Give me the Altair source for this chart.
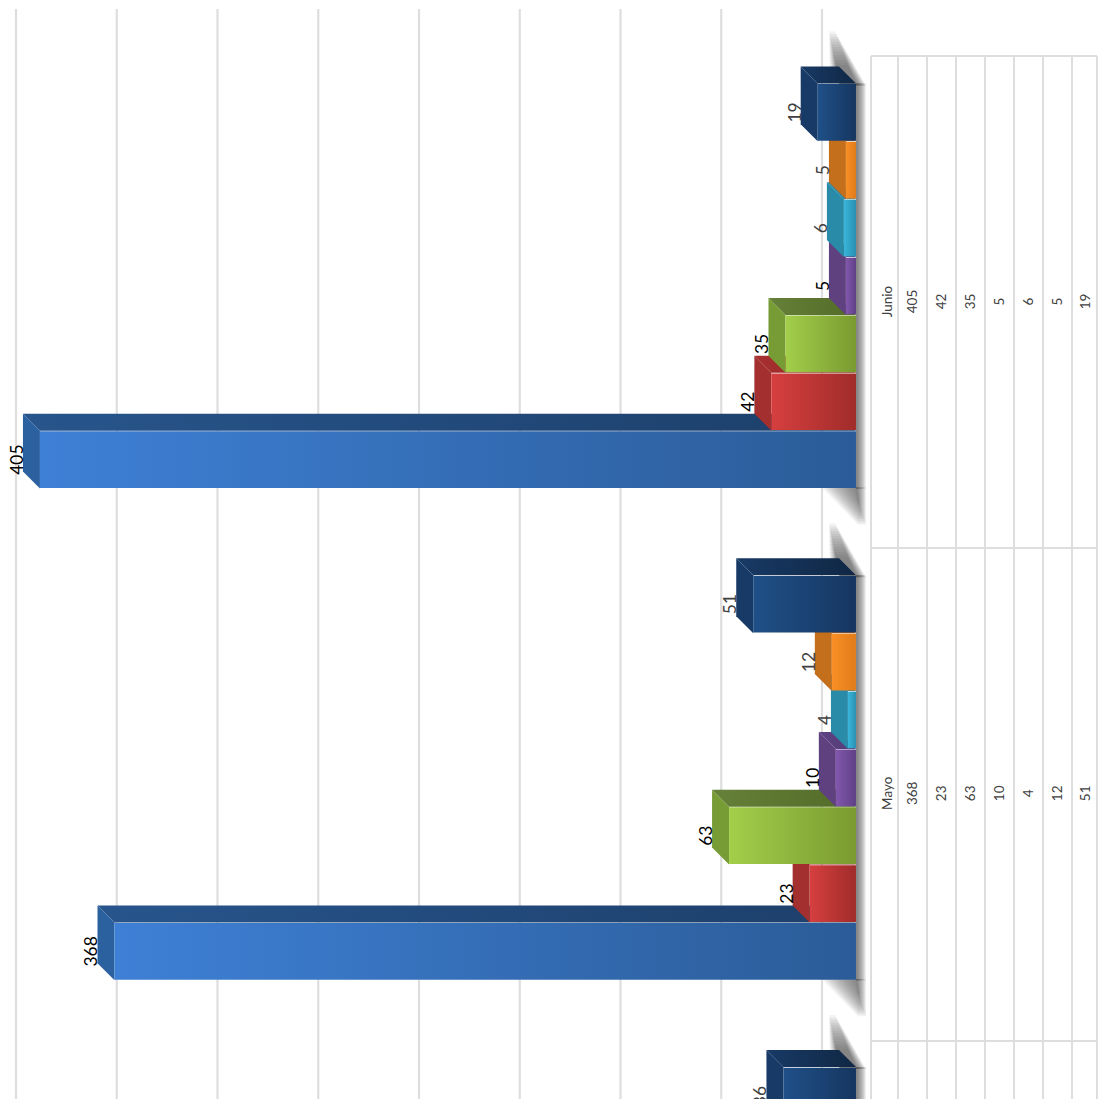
import altair as alt
import pandas as pd

categories = ["Junio", "Mayo", ""]
junio = [405, 42, 35, 5, 6, 5, 19]
mayo = [368, 23, 63, 10, 4, 12, 51]
abril = [None, None, None, None, None, None, 36]
series_values = [junio, mayo, abril]
grid_values = [0, 50, 100, 150, 200, 250, 300, 350, 400]

front_colors = [("#3e80d6", "#2b5c98"), ("#d63f3f", "#a02c2a"), ("#a2cf4a", "#7a9a30"),
                ("#8257ad", "#5f4186"), ("#38b6da", "#2a90b2"), ("#f98f25", "#e07c1a"), ("#1f5088", "#163660")]
top_colors = [("#27558c", "#1d3f6a"), ("#a62f2e", "#8e2a28"), ("#66813a", "#526a26"),
              ("#5f4384", "#533a74"), ("#2a8ba8", "#277c96"), ("#c46f1c", "#b5661a"), ("#183a66", "#102744")]
side_colors = ["#2c619f", "#a32f2e", "#779c36", "#5f417f", "#2a8ba8", "#c46f1c", "#173a66"]
label_colors = ["#000000", "#000000", "#000000", "#000000", "#404040", "#404040", "#404040"]

W, H = 1092, 1096
S = 1106 / (W + 16)          # the page is photographed at this scale when it is wider than the window
px = lambda p: p / S - 8     # reference pixel -> chart pixel
PX_PER_UNIT = 2.015 / S
BASE_PX = px(856)
SLOT_PX = 57.86 / S
TOP_PX = px(82.5)
GROUP_SLOTS = 8.5
DEPTH_X = 17 / 2.015
DEPTH_Y = 17 / 57.86
FONT = "Lato"

xs = alt.Scale(domain=[BASE_PX / PX_PER_UNIT, (BASE_PX - W) / PX_PER_UNIT], range=[0, W], nice=False, zero=False)
ys = alt.Scale(domain=[-TOP_PX / SLOT_PX, (H - TOP_PX) / SLOT_PX], range=[0, H], nice=False, zero=False)
X = lambda f="x": alt.X(f"{f}:Q", scale=xs, axis=None)
Y = lambda f="y": alt.Y(f"{f}:Q", scale=ys, axis=None)
ux = lambda d: d / 2.015     # reference pixels to the left of the bar base, in value units
uy = lambda d: d / 57.86     # reference pixels downward, in slot units


def grad(c1, c2):
    return alt.Gradient(gradient="linear", x1=0, y1=0, x2=1, y2=0,
                        stops=[alt.GradientStop(offset=0, color=c1), alt.GradientStop(offset=1, color=c2)])


layers = []

# grid on the back wall
grid_df = pd.DataFrame({"x": [g + 2 * DEPTH_X for g in grid_values]})
layers.append(alt.Chart(grid_df).mark_rule(color="#dedede", strokeWidth=2.2, clip=True).encode(
    x=X(), y=alt.value(0), y2=alt.value(H)))

# soft shadows behind each group: stacked translucent shapes act as a blur
STACK = 14
top_rows, bot_rows, side_rows = [], [], []
for c in range(3):
    g0 = c * GROUP_SLOTS
    g1 = g0 + 7
    for k in range(STACK):
        top_rows.append({"id": f"{c}-{k}", "y": g0 + uy(-52 + 2.6 * k), "x": ux(27), "x2": ux(21 - 1.0 * k)})
        top_rows.append({"id": f"{c}-{k}", "y": g0 + uy(2), "x": ux(16), "x2": ux(-10 + 0.7 * k)})
        bot_rows.append({"id": f"{c}-{k}", "y": g1 + uy(-1), "x": ux(34 - 2.6 * k), "x2": ux(-10 + 0.7 * k)})
        bot_rows.append({"id": f"{c}-{k}", "y": g1 + uy(36 - 1.8 * k), "x": ux(-2 - 0.2 * k), "x2": ux(-10 + 0.7 * k)})
        side_rows.append({"x": 0, "x2": ux(-10 + 0.7 * k), "y": g0, "y2": g1})
layers.append(alt.Chart(pd.DataFrame(top_rows)).mark_area(
    orient="horizontal", clip=True, color="#404040", opacity=0.07).encode(
    x=X(), x2="x2:Q", y=Y(), detail="id:N"))
layers.append(alt.Chart(pd.DataFrame(bot_rows)).mark_area(
    orient="horizontal", clip=True, color="#404040", opacity=0.07).encode(
    x=X(), x2="x2:Q", y=Y(), detail="id:N"))
layers.append(alt.Chart(pd.DataFrame(side_rows)).mark_rect(
    clip=True, color="#404040", opacity=0.07).encode(x=X(), x2="x2:Q", y=Y(), y2="y2:Q"))

# bars: the lowest bar of a group is painted first
labels = []
for s in range(7):
    front, top, side = [], [], []
    for c, vals in enumerate(series_values):
        v = vals[s]
        if v is None:
            continue
        y0 = c * GROUP_SLOTS + (6 - s)
        y1 = y0 + 1
        front.append({"x": v, "x2": 0, "y": y0 + 0.01, "y2": y1 - 0.01})
        top.append({"c": c, "y": y0 - DEPTH_Y, "x": v + DEPTH_X, "x2": DEPTH_X})
        top.append({"c": c, "y": y0, "x": v, "x2": 0})
        side.append({"c": c, "x": v + DEPTH_X, "y": y0 - DEPTH_Y, "y2": y1 - DEPTH_Y})
        side.append({"c": c, "x": v, "y": y0, "y2": y1})
        labels.append({"x": v + DEPTH_X + ux(5), "y": y0 + 0.5, "t": str(v), "col": label_colors[s]})
    layers.append(alt.Chart(pd.DataFrame(top)).mark_area(
        orient="horizontal", clip=True, fill=grad(*top_colors[s])).encode(
        x=X(), x2="x2:Q", y=Y(), detail="c:N"))
    layers.append(alt.Chart(pd.DataFrame(side)).mark_area(
        orient="vertical", clip=True, fill=side_colors[s]).encode(
        x=X(), y=Y(), y2="y2:Q", detail="c:N"))
    layers.append(alt.Chart(pd.DataFrame(front)).mark_rect(
        clip=True, fill=grad(*front_colors[s])).encode(x=X(), x2="x2:Q", y=Y(), y2="y2:Q"))

for col in sorted(set(label_colors)):
    rows = [r for r in labels if r["col"] == col]
    layers.append(alt.Chart(pd.DataFrame(rows)).mark_text(
        angle=270, align="center", baseline="middle", font=FONT, fontSize=17.5, color=col, clip=True).encode(
        x=X(), y=Y(), text="t:N"))

# data table
col_px = [871, 898, 927, 956, 985, 1014, 1043, 1072, 1100]
row_px = [55, 547, 1040]
one = pd.DataFrame({"a": [0]})
for p in col_px:
    layers.append(alt.Chart(one).mark_rule(color="#dedede", strokeWidth=2).encode(
        x=alt.value(min(px(p), W - 1)), y=alt.value(px(row_px[0])), y2=alt.value(H)))
for p in row_px:
    layers.append(alt.Chart(one).mark_rule(color="#dedede", strokeWidth=2).encode(
        x=alt.value(px(col_px[0])), x2=alt.value(W - 1), y=alt.value(px(p))))

text_px = [888.5, 913, 942, 971, 1000, 1029, 1058, 1086]
for i, p in enumerate(text_px):
    rows = []
    for c in range(2):
        txt = categories[c] if i == 0 else str(series_values[c][i - 1])
        rows.append({"y": c * GROUP_SLOTS + 3.5 + uy(15.5), "t": txt})
    layers.append(alt.Chart(pd.DataFrame(rows)).mark_text(
        angle=270, align="center", baseline="middle", font=FONT, fontSize=13.5, color="#404040").encode(
        x=alt.value(px(p)), y=Y(), text="t:N"))

chart = alt.layer(*layers).properties(
    width=W, height=H, padding=0, autosize=alt.AutoSizeParams(type="none"), background="#ffffff"
).configure_view(stroke=None)

chart.save("out.html", embed_options={"renderer": "svg", "actions": False})
